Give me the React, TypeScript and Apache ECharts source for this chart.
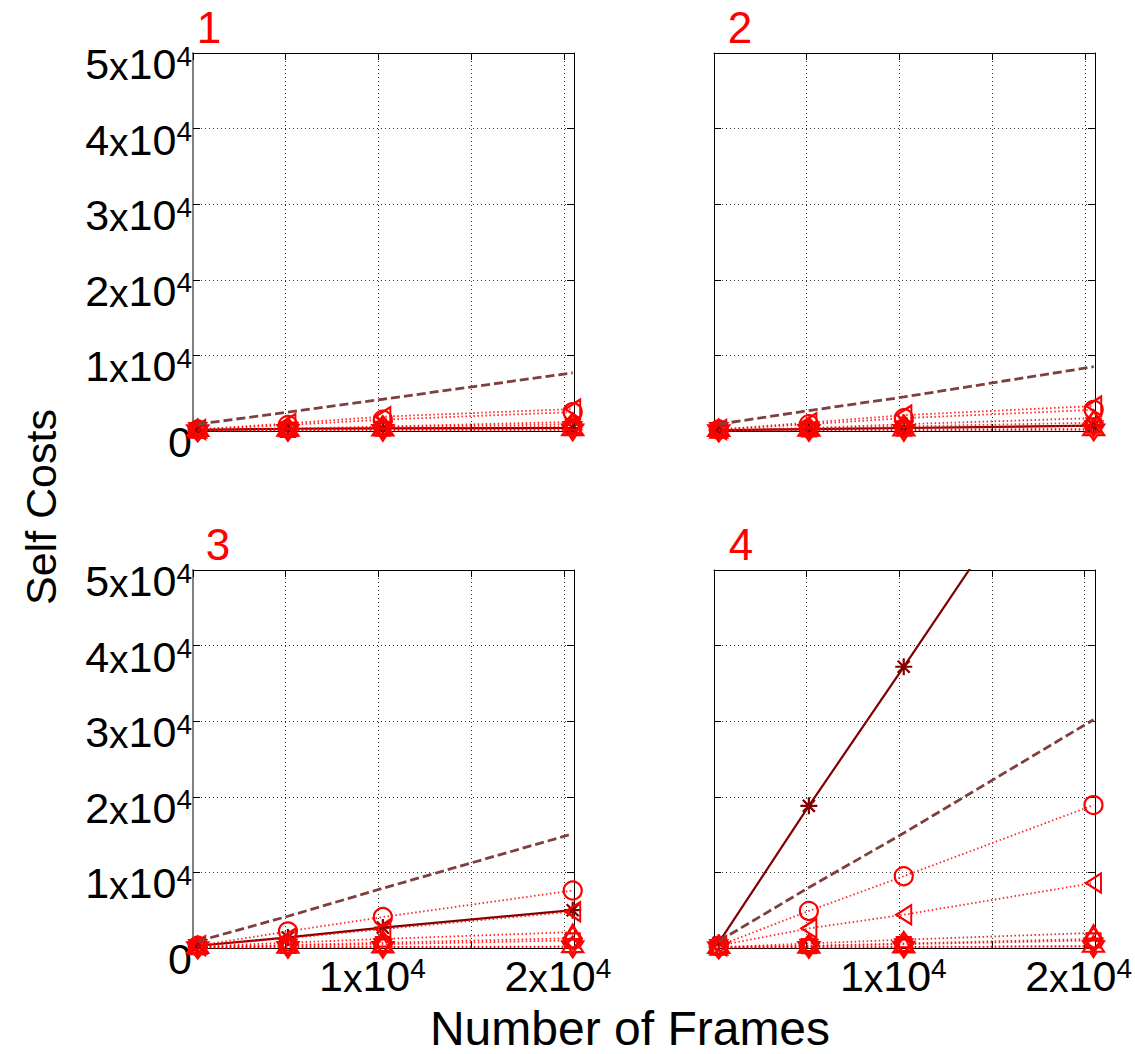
import React, { useEffect, useRef } from 'react';
import * as echarts from 'echarts';

// ---------- data ----------
const frames = [256, 5120, 10240, 20480];
const xLabeledTicks = [10000, 20000];
const yTicks = [0, 10000, 20000, 30000, 40000, 50000];
const panelTitles = ['1', '2', '3', '4'];

// panel 1
const p1Asterisk = [150, 300, 350, 400];
const p1Dashed = [900, 2500, 4200, 7700];
const p1Circle = [200, 800, 1500, 2500];
const p1LeftTri = [200, 1000, 1900, 2900];
const p1UpTri = [100, 300, 600, 1200];
const p1Diamond = [100, 250, 500, 900];
const p1Square = [100, 150, 300, 600];
const p1DownTri = [50, 100, 150, 200];
const p1Hexagram = [50, 80, 100, 150];

// panel 2
const p2Asterisk = [100, 250, 400, 700];
const p2Dashed = [900, 2700, 4500, 8500];
const p2Circle = [200, 900, 1700, 2800];
const p2LeftTri = [200, 1100, 2100, 3300];
const p2UpTri = [100, 400, 900, 1700];
const p2Diamond = [100, 300, 600, 1100];
const p2Square = [100, 200, 350, 700];
const p2DownTri = [50, 100, 200, 300];
const p2Hexagram = [50, 80, 100, 150];

// panel 3
const p3Asterisk = [300, 1400, 2700, 5000];
const p3Dashed = [900, 4200, 7900, 15100];
const p3Circle = [300, 2200, 4100, 7600];
const p3LeftTri = [300, 1300, 2500, 4800];
const p3UpTri = [200, 700, 1200, 2100];
const p3Diamond = [100, 400, 700, 1300];
const p3Square = [100, 300, 500, 1000];
const p3DownTri = [50, 100, 150, 200];
const p3Hexagram = [50, 80, 100, 150];

// panel 4
const p4Asterisk = [700, 18800, 37200, 74400];
const p4Dashed = [900, 8000, 15200, 30200];
const p4Circle = [300, 4900, 9500, 18900];
const p4LeftTri = [300, 2600, 4400, 8600];
const p4UpTri = [100, 600, 1100, 2000];
const p4Diamond = [100, 300, 600, 1200];
const p4Square = [100, 250, 500, 1000];
const p4DownTri = [50, 100, 150, 250];
const p4Hexagram = [50, 80, 120, 200];

const panelSeries = [
  [p1Asterisk, p1Hexagram, p1DownTri, p1Square, p1Diamond, p1UpTri, p1LeftTri, p1Circle, p1Dashed],
  [p2Asterisk, p2Hexagram, p2DownTri, p2Square, p2Diamond, p2UpTri, p2LeftTri, p2Circle, p2Dashed],
  [p3Asterisk, p3Hexagram, p3DownTri, p3Square, p3Diamond, p3UpTri, p3LeftTri, p3Circle, p3Dashed],
  [p4Asterisk, p4Hexagram, p4DownTri, p4Square, p4Diamond, p4UpTri, p4LeftTri, p4Circle, p4Dashed],
];

// ---------- styles ----------
const FONT = 'Liberation Sans';
const RED = '#ff0000';
const ASTERISK = 'path://M10,0L10,20M0,10L20,10M2.93,2.93L17.07,17.07M2.93,17.07L17.07,2.93';
const HEXAGRAM = 'path://M10,0L12.9,5L18.66,5L15.77,10L18.66,15L12.9,15L10,20L7.1,15L1.34,15L4.23,10L1.34,5L7.1,5Z';
const LEFT_TRI = 'path://M0,10L17,0L17,20Z';
const DOWN_TRI = 'path://M0,0L20,0L10,17Z';
const UP_TRI = 'path://M0,17L20,17L10,0Z';

const seriesStyles = [
  { symbol: ASTERISK, size: 17, kind: 'solid' },
  { symbol: HEXAGRAM, size: 21, kind: 'dotted' },
  { symbol: DOWN_TRI, size: [17, 15], kind: 'dotted' },
  { symbol: 'rect', size: 14, kind: 'dotted' },
  { symbol: 'diamond', size: [18, 22], kind: 'dotted' },
  { symbol: UP_TRI, size: [17, 15], kind: 'dotted' },
  { symbol: LEFT_TRI, size: [15, 19], kind: 'dotted' },
  { symbol: 'circle', size: 18, kind: 'dotted' },
  { symbol: 'none', size: 0, kind: 'dashed' },
];

const grids = [
  { left: 193, top: 53, width: 381, height: 378 },
  { left: 714, top: 53, width: 381, height: 378 },
  { left: 193, top: 570, width: 381, height: 378 },
  { left: 714, top: 570, width: 381, height: 378 },
];
const titlePos = [
  [209, 27],
  [740, 27],
  [218, 544],
  [741, 544],
];

const rich = {
  b: { fontSize: 43, fontFamily: FONT, color: '#000', lineHeight: 44 },
  m: { fontSize: 39, fontFamily: FONT, color: '#000', lineHeight: 44, verticalAlign: 'bottom', padding: [0, 0, 0, 0] },
  s: { fontSize: 28, fontFamily: FONT, color: '#000', lineHeight: 26, verticalAlign: 'top' },
};

const sciLabel = (v: number) => {
  if (v === 0) return '{b|0}';
  return `{b|${v / 10000}}{m|x}{b|10}{s|4}`;
};

const gridLine = { show: true, lineStyle: { color: '#333', type: [1, 3], width: 1 } };

function buildOption() {
  const xAxis: any[] = [];
  const yAxis: any[] = [];
  const series: any[] = [];
  grids.forEach((g, i) => {
    const showX = i >= 2;
    const showY = i % 2 === 0;
    const tick = { show: true, inside: true, length: 7, lineStyle: { color: '#000', width: 1 } };
    xAxis.push({
      type: 'value',
      gridIndex: i,
      min: 0,
      max: 20550,
      interval: 5000,
      position: 'bottom',
      axisLine: { show: true, onZero: false, lineStyle: { color: '#000', width: 1 } },
      axisTick: tick,
      splitLine: gridLine,
      axisLabel: {
        show: showX,
        margin: 6,
        padding: [0, 12, 0, 0],
        rich,
        formatter: (v: number) => (xLabeledTicks.includes(v) ? sciLabel(v) : ''),
      },
    });
    xAxis.push({
      type: 'value',
      gridIndex: i,
      min: 0,
      max: 20550,
      interval: 5000,
      position: 'top',
      axisLine: { show: true, onZero: false, lineStyle: { color: '#000', width: 1 } },
      axisTick: tick,
      splitLine: { show: false },
      axisLabel: { show: false },
    });
    yAxis.push({
      type: 'value',
      gridIndex: i,
      min: 0,
      max: 50000,
      interval: 10000,
      position: 'left',
      axisLine: {
        show: true,
        onZero: false,
        lineStyle: showY ? { color: '#808080', width: 2 } : { color: '#000', width: 1 },
      },
      axisTick: tick,
      splitLine: gridLine,
      axisLabel: {
        show: showY,
        margin: 1,
        padding: [22, 0, 0, 0],
        rich,
        formatter: (v: number) => (yTicks.includes(v) ? sciLabel(v) : ''),
      },
    });
    yAxis.push({
      type: 'value',
      gridIndex: i,
      min: 0,
      max: 50000,
      interval: 10000,
      position: 'right',
      axisLine: { show: true, onZero: false, lineStyle: { color: '#000', width: 1 } },
      axisTick: tick,
      splitLine: { show: false },
      axisLabel: { show: false },
    });

    panelSeries[i].forEach((vals, k) => {
      const st = seriesStyles[k];
      let lineStyle: any;
      let markerColor = RED;
      if (st.kind === 'solid') {
        lineStyle = { color: '#800000', width: 2.2, type: 'solid' };
        markerColor = '#800000';
      } else if (st.kind === 'dashed') {
        lineStyle = { color: '#7f3f3f', width: 2.8, type: [9, 4] };
      } else {
        lineStyle = { color: 'rgba(255,0,0,0.85)', width: 1.8, type: [1.5, 2.5] };
      }
      series.push({
        type: 'line',
        xAxisIndex: 2 * i,
        yAxisIndex: 2 * i,
        data: frames.map((f, j) => [f, vals[j]]),
        symbol: st.symbol,
        symbolSize: st.size,
        showSymbol: st.symbol !== 'none',
        lineStyle,
        itemStyle: { color: 'rgba(0,0,0,0)', borderColor: markerColor, borderWidth: 2.2 },
        emphasis: { disabled: true },
        silent: true,
        z: 2 + k,
      });
    });
  });

  const graphic: any[] = panelTitles.map((t, i) => ({
    type: 'text',
    x: titlePos[i][0],
    y: titlePos[i][1],
    style: {
      text: t,
      fill: RED,
      font: `44px "${FONT}"`,
      textAlign: 'center',
      textVerticalAlign: 'middle',
    },
  }));
  graphic.push({
    type: 'text',
    x: 41,
    y: 507,
    rotation: Math.PI / 2,
    style: {
      text: 'Self Costs',
      fill: '#000',
      font: `43px "${FONT}"`,
      textAlign: 'center',
      textVerticalAlign: 'middle',
    },
  });
  graphic.push({
    type: 'text',
    x: 630,
    y: 1028,
    style: {
      text: 'Number of Frames',
      fill: '#000',
      font: `48px "${FONT}"`,
      textAlign: 'center',
      textVerticalAlign: 'middle',
    },
  });

  return {
    animation: false,
    backgroundColor: '#fff',
    grid: grids.map((g) => ({ ...g, containLabel: false })),
    xAxis,
    yAxis,
    series,
    graphic,
  };
}

export default function App() {
  const ref = useRef<HTMLDivElement>(null);
  useEffect(() => {
    if (!ref.current) return;
    const chart = echarts.init(ref.current, undefined, { renderer: 'svg' });
    chart.setOption(buildOption() as any);
    return () => chart.dispose();
  }, []);
  return (
    <div
      ref={ref}
      style={{ position: 'absolute', left: 0, top: 0, width: 1135, height: 1054, background: '#fff' }}
    />
  );
}
